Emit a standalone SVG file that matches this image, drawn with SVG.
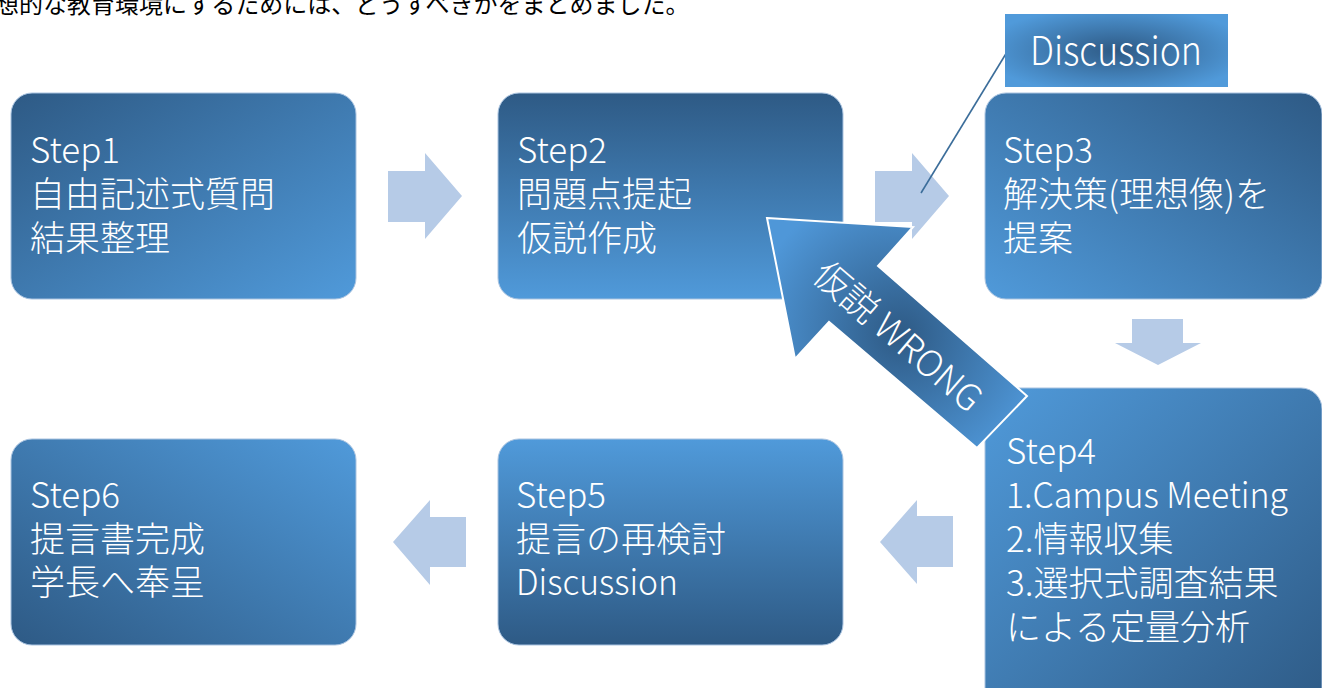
<svg xmlns="http://www.w3.org/2000/svg" width="1322" height="688" viewBox="0 0 1322 688">
<defs>
<linearGradient id="gTL" x1="0" y1="0" x2="1" y2="1"><stop offset="0" stop-color="#2e5a85"/><stop offset="1" stop-color="#509ada"/></linearGradient>
<linearGradient id="gT" x1="0" y1="0" x2="0" y2="1"><stop offset="0" stop-color="#2e5a85"/><stop offset="1" stop-color="#509ada"/></linearGradient>
<linearGradient id="gTR" x1="1" y1="0" x2="0" y2="1"><stop offset="0" stop-color="#2e5a85"/><stop offset="1" stop-color="#509ada"/></linearGradient>
<linearGradient id="gBR" x1="0" y1="0" x2="1" y2="1"><stop offset="0" stop-color="#509ada"/><stop offset="1" stop-color="#2e5a85"/></linearGradient>
<linearGradient id="gB" x1="0" y1="0" x2="0" y2="1"><stop offset="0" stop-color="#509ada"/><stop offset="1" stop-color="#2e5a85"/></linearGradient>
<linearGradient id="gBL" x1="1" y1="0" x2="0" y2="1"><stop offset="0" stop-color="#509ada"/><stop offset="1" stop-color="#2e5a85"/></linearGradient>
<radialGradient id="gRad" cx="0.5" cy="0.5" r="0.6"><stop offset="0" stop-color="#2e5a85"/><stop offset="1" stop-color="#509ada"/></radialGradient>
<radialGradient id="gArrow" gradientUnits="userSpaceOnUse" cx="900" cy="334" r="150"><stop offset="0" stop-color="#2e5a85"/><stop offset="1" stop-color="#4f97d8"/></radialGradient>
<style>
.box{stroke:#a9c3e0;stroke-width:1}
.t{font-family:"Noto Sans CJK JP","Noto Sans",sans-serif;font-size:35px;fill:#ffffff;font-weight:300}
.blk{fill:#b6cbe7}
.top{font-family:"Noto Sans CJK JP",sans-serif;font-size:24px;fill:#000000}
</style>
</defs>
<text class="top" x="-5" y="13">想的な教育環境にするためには、どうすべきかをまとめました。</text>

<g id="step1">
<rect class="box" x="11" y="93" width="345" height="206" rx="21" fill="url(#gTL)"/>
<text class="t"><tspan x="30" y="163">Step1</tspan><tspan x="30" y="207">自由記述式質問</tspan><tspan x="30" y="251">結果整理</tspan></text>
</g>
<g id="step2">
<rect class="box" x="498" y="93" width="345" height="206" rx="21" fill="url(#gT)"/>
<text class="t"><tspan x="517" y="163">Step2</tspan><tspan x="517" y="207">問題点提起</tspan><tspan x="517" y="251">仮説作成</tspan></text>
</g>
<g id="step3">
<rect class="box" x="985" y="93" width="337" height="206" rx="21" fill="url(#gTR)"/>
<text class="t"><tspan x="1003" y="163">Step3</tspan><tspan x="1003" y="207">解決策(理想像)を</tspan><tspan x="1003" y="251">提案</tspan></text>
</g>
<g id="step4">
<rect class="box" x="985" y="388" width="337" height="330" rx="21" fill="url(#gBR)"/>
<text class="t"><tspan x="1006" y="464">Step4</tspan></text>
<text class="t" x="1006" y="508" textLength="282" lengthAdjust="spacingAndGlyphs">1.Campus Meeting</text>
<text class="t"><tspan x="1006" y="552">2.情報収集</tspan><tspan x="1006" y="596">3.選択式調査結果</tspan><tspan x="1006" y="640">による定量分析</tspan></text>
</g>
<g id="step5">
<rect class="box" x="498" y="439" width="345" height="206" rx="21" fill="url(#gB)"/>
<text class="t"><tspan x="516" y="508">Step5</tspan><tspan x="516" y="552">提言の再検討</tspan></text>
<text class="t" x="516" y="595" textLength="162" lengthAdjust="spacingAndGlyphs">Discussion</text>
</g>
<g id="step6">
<rect class="box" x="11" y="439" width="345" height="206" rx="21" fill="url(#gBL)"/>
<text class="t"><tspan x="30" y="508">Step6</tspan><tspan x="30" y="552">提言書完成</tspan><tspan x="30" y="595">学長へ奉呈</tspan></text>
</g>

<g id="connectors">
<polygon class="blk" points="388,171 425,171 425,153 462,196 425,239 425,222 388,222"/>
<polygon class="blk" points="875,171 912,171 912,153 949,196 912,239 912,222 875,222"/>
<polygon class="blk" points="1132,319 1183,319 1183,343 1201,343 1158,365 1115,343 1132,343"/>
<polygon class="blk" points="953,516 917,516 917,500 880,542 917,584 917,567 953,567"/>
<polygon class="blk" points="466,517 430,517 430,500 393,542 430,585 430,567 466,567"/>
<line x1="1007" y1="52" x2="921" y2="193" stroke="#3b6d9a" stroke-width="1.6"/>
<g id="wrong-arrow">
<polygon points="767,218 913,227 878,266 1027,396 977,448 829,322 795,359" fill="url(#gArrow)" stroke="#ffffff" stroke-width="2" stroke-linejoin="miter"/>
<text class="t" x="900" y="334" text-anchor="middle" dominant-baseline="central" transform="rotate(40.7 900 334)" style="font-size:36px">仮説 WRONG</text>
</g>
</g>

<g id="discussion">
<rect x="1005" y="14" width="223" height="73" fill="url(#gRad)"/>
<text class="t" x="1030" y="65" textLength="172" lengthAdjust="spacingAndGlyphs" style="font-size:40px">Discussion</text>
</g>
</svg>
